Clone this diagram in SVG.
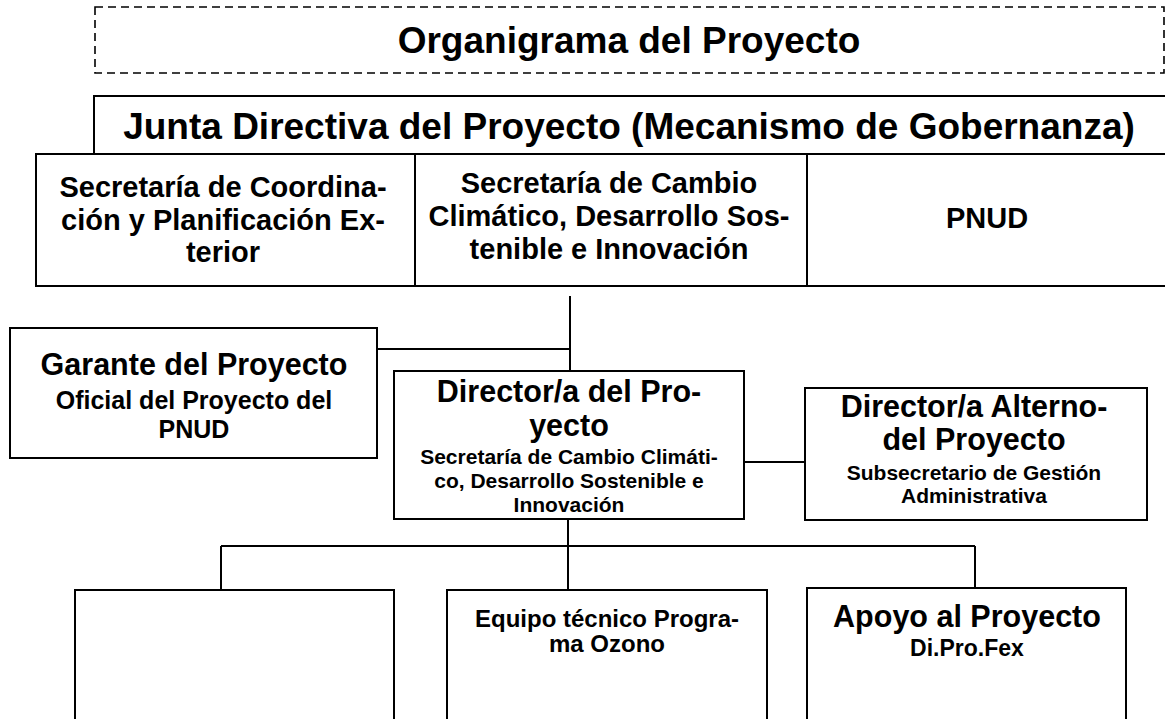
<svg xmlns="http://www.w3.org/2000/svg" width="1165" height="719" viewBox="0 0 1165 719">
<style>
.box{fill:#fff;stroke:#000;stroke-width:2}
.dash{fill:#fff;stroke:#000;stroke-width:1.6;stroke-dasharray:8 5}
.ln{fill:none;stroke:#000;stroke-width:2}
text{font-family:"Liberation Sans",Arial,sans-serif;font-weight:bold;fill:#000;text-anchor:middle}
.t37{font-size:37px}
.t30{font-size:30.5px}
.t29{font-size:29px}
.t25{font-size:25px}
.t24{font-size:24px}
.t23{font-size:23px}
.t21{font-size:21px}
</style>
<rect width="1165" height="719" fill="#fff"/>
<g id="title">
<rect class="dash" x="95" y="7" width="1069" height="66"/>
<text class="t37" x="629" y="53">Organigrama del Proyecto</text>
</g>
<g id="junta">
<rect class="box" x="94" y="96" width="1080" height="58"/>
<text class="t37" x="629" y="139">Junta Directiva del Proyecto (Mecanismo de Gobernanza)</text>
</g>
<g id="sec-coord">
<rect class="box" x="36" y="154" width="379" height="132"/>
<text class="t29" x="223" y="197">Secretaría de Coordina-</text>
<text class="t29" x="223" y="230">ción y Planificación Ex-</text>
<text class="t29" x="223" y="262">terior</text>
</g>
<g id="sec-cambio">
<rect class="box" x="415" y="154" width="392" height="132"/>
<text class="t29" x="609" y="193">Secretaría de Cambio</text>
<text class="t29" x="609" y="226">Climático, Desarrollo Sos-</text>
<text class="t29" x="609" y="259">tenible e Innovación</text>
</g>
<g id="pnud">
<rect class="box" x="807" y="154" width="370" height="132"/>
<text class="t29" x="987" y="228">PNUD</text>
</g>
<g id="connectors">
<path class="ln" d="M570 296V371"/>
<path class="ln" d="M377 349H570"/>
<path class="ln" d="M744 462H805"/>
<path class="ln" d="M568 519V590"/>
<path class="ln" d="M221 546H975"/>
<path class="ln" d="M221 546V590"/>
<path class="ln" d="M975 546V588"/>
</g>
<g id="garante">
<rect class="box" x="10" y="328" width="367" height="130"/>
<text class="t30" x="194" y="375">Garante del Proyecto</text>
<text class="t25" x="194" y="409">Oficial del Proyecto del</text>
<text class="t25" x="194" y="438">PNUD</text>
</g>
<g id="director">
<rect class="box" x="394" y="371" width="350" height="148"/>
<text class="t30" x="569" y="402">Director/a del Pro-</text>
<text class="t30" x="569" y="436">yecto</text>
<text class="t21" x="569" y="464">Secretaría de Cambio Climáti-</text>
<text class="t21" x="569" y="488">co, Desarrollo Sostenible e</text>
<text class="t21" x="569" y="512">Innovación</text>
</g>
<g id="director-alterno">
<rect class="box" x="805" y="388" width="342" height="132"/>
<text class="t30" x="974" y="417">Director/a Alterno-</text>
<text class="t30" x="974" y="450">del Proyecto</text>
<text class="t21" x="974" y="480">Subsecretario de Gestión</text>
<text class="t21" x="974" y="503">Administrativa</text>
</g>
<g id="vacio">
<rect class="box" x="75" y="590" width="319" height="140"/>
</g>
<g id="equipo-ozono">
<rect class="box" x="447" y="590" width="320" height="140"/>
<text class="t24" x="607" y="627">Equipo técnico Progra-</text>
<text class="t24" x="607" y="652">ma Ozono</text>
</g>
<g id="apoyo">
<rect class="box" x="807" y="588" width="319" height="142"/>
<text class="t30" x="967" y="627">Apoyo al Proyecto</text>
<text class="t23" x="967" y="656">Di.Pro.Fex</text>
</g>
</svg>
